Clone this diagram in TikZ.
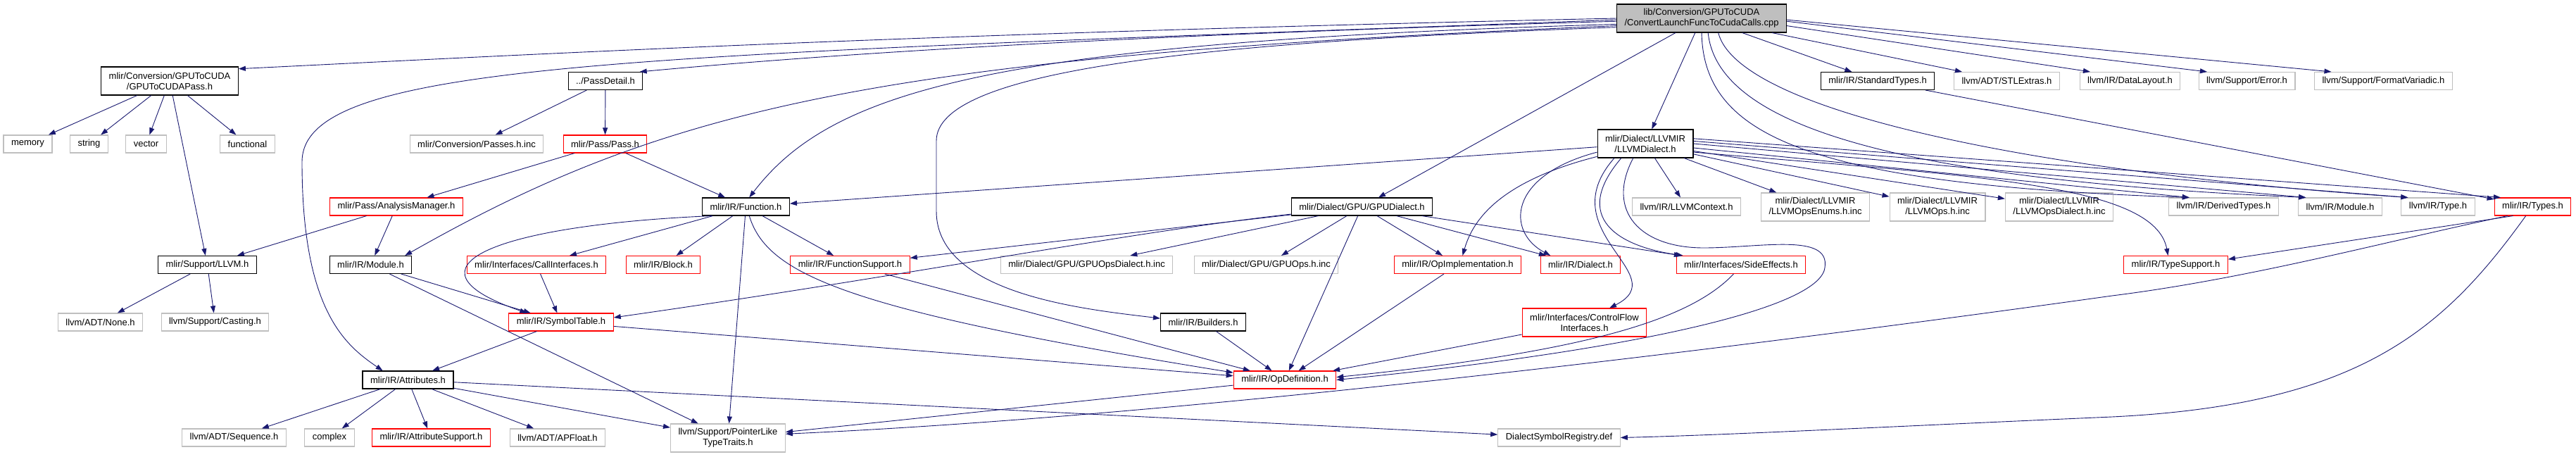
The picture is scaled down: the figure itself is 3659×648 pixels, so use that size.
\documentclass[tikz,border=0pt]{standalone}
\usepackage{fontspec}
\setmainfont{Liberation Sans}
\usetikzlibrary{arrows.meta}
\definecolor{edgeblue}{RGB}{25,25,112}
\definecolor{truncred}{RGB}{255,0,0}
\definecolor{extgray}{RGB}{191,191,191}

\begin{document}
\begin{tikzpicture}[x=1pt,y=1pt,every node/.style={font=\fontsize{13}{15}\selectfont},
  incbox/.style={rectangle,draw,line width=1.1pt,inner xsep=11pt,inner ysep=2pt,minimum height=25pt,align=center},
  doc/.style={incbox,draw=black},
  trunc/.style={incbox,draw=truncred},
  ext/.style={incbox,draw=extgray},
  root/.style={incbox,draw=black,fill=extgray},
  tall/.style={minimum height=40pt},
  dep/.style={draw=edgeblue,line width=0.9pt,-{Triangle[length=10pt,width=7pt]}}]
  \useasboundingbox (0,0) rectangle (3659,-648);
  % Source file
  \node[root,tall] (cpp) at (2417,-26) {lib/Conversion/GPUToCUDA\\/ConvertLaunchFuncToCudaCalls.cpp};
  % Direct includes
  \node[doc,tall] (gputocuda) at (241,-115) {mlir/Conversion/GPUToCUDA\\/GPUToCUDAPass.h};
  \node[doc] (passdetail) at (860,-115) {../PassDetail.h};
  \node[doc] (stdtypes) at (2667,-115) {mlir/IR/StandardTypes.h};
  \node[ext] (stlextras) at (2850.5,-115) {llvm/ADT/STLExtras.h};
  \node[ext] (datalayout) at (3025.5,-115) {llvm/IR/DataLayout.h};
  \node[ext] (error) at (3191.5,-115) {llvm/Support/Error.h};
  \node[ext] (formatvar) at (3385.5,-115) {llvm/Support/FormatVariadic.h};
  % Second row
  \foreach \n/\x in {memory/39.5,string/126.5,vector/207.5,functional/351.5}
    \node[ext] (\n) at (\x,-204.5) {\n};
  \node[ext] (passesinc) at (677,-204.5) {mlir/Conversion/Passes.h.inc};
  \node[trunc] (pass) at (859.5,-204.5) {mlir/Pass/Pass.h};
  \node[doc,tall] (llvmdialect) at (2337,-204) {mlir/Dialect/LLVMIR\\/LLVMDialect.h};
  % Third row
  \node[trunc] (analysis) at (563,-293.5) {mlir/Pass/AnalysisManager.h};
  \node[doc] (function) at (1059.5,-293.5) {mlir/IR/Function.h};
  \node[doc] (gpudialect) at (1934.5,-293.5) {mlir/Dialect/GPU/GPUDialect.h};
  \node[ext] (llvmcontext) at (2395.5,-293.5) {llvm/IR/LLVMContext.h};
  \node[ext,tall] (opsenums) at (2578.5,-294) {mlir/Dialect/LLVMIR\\/LLVMOpsEnums.h.inc};
  \node[ext,tall] (opsinc) at (2752,-294) {mlir/Dialect/LLVMIR\\/LLVMOps.h.inc};
  \node[ext,tall] (opsdialectinc) at (2925,-294) {mlir/Dialect/LLVMIR\\/LLVMOpsDialect.h.inc};
  \node[ext] (derivedtypes) at (3158.5,-293.5) {llvm/IR/DerivedTypes.h};
  \node[ext] (llvmmodule) at (3324,-293.5) {llvm/IR/Module.h};
  \node[ext] (type) at (3463,-293.5) {llvm/IR/Type.h};
  \node[trunc] (types) at (3597.5,-293.5) {mlir/IR/Types.h};
  % Fourth row
  \node[doc] (supportllvm) at (294.5,-376) {mlir/Support/LLVM.h};
  \node[doc] (mlirmodule) at (526.5,-376) {mlir/IR/Module.h};
  \node[trunc] (callif) at (762,-376) {mlir/Interfaces/CallInterfaces.h};
  \node[trunc] (block) at (942,-376) {mlir/IR/Block.h};
  \node[trunc] (funcsupport) at (1207.5,-376) {mlir/IR/FunctionSupport.h};
  \node[ext] (gpuopsdialect) at (1543.5,-376) {mlir/Dialect/GPU/GPUOpsDialect.h.inc};
  \node[ext] (gpuops) at (1798.5,-376) {mlir/Dialect/GPU/GPUOps.h.inc};
  \node[trunc] (opimpl) at (2070.5,-376) {mlir/IR/OpImplementation.h};
  \node[trunc] (dialect) at (2245,-376) {mlir/IR/Dialect.h};
  \node[trunc] (sideeffects) at (2473,-376) {mlir/Interfaces/SideEffects.h};
  \node[trunc] (typesupport) at (3090.5,-376) {mlir/IR/TypeSupport.h};
  % Fifth row
  \node[ext] (none) at (142.5,-457.5) {llvm/ADT/None.h};
  \node[ext] (casting) at (305.5,-457.5) {llvm/Support/Casting.h};
  \node[trunc] (symtable) at (797,-457.5) {mlir/IR/SymbolTable.h};
  \node[doc] (builders) at (1709,-457.5) {mlir/IR/Builders.h};
  \node[trunc,tall] (cfi) at (2250.5,-458) {mlir/Interfaces/ControlFlow\\Interfaces.h};
  % Sixth row
  \node[doc] (attributes) at (579.5,-539.5) {mlir/IR/Attributes.h};
  \node[trunc] (opdef) at (1825,-539.5) {mlir/IR/OpDefinition.h};
  % Bottom row
  \node[ext] (sequence) at (332.5,-621.5) {llvm/ADT/Sequence.h};
  \node[ext] (complex) at (468,-621.5) {complex};
  \node[trunc] (attrsupport) at (612.5,-621.5) {mlir/IR/AttributeSupport.h};
  \node[ext] (apfloat) at (792,-621.5) {llvm/ADT/APFloat.h};
  \node[ext,tall] (pointerlike) at (1034,-622) {llvm/Support/PointerLike\\TypeTraits.h};
  \node[ext] (registry) at (2214.5,-621.5) {DialectSymbolRegistry.def};

  % Straight includes
  \foreach \a/\b in {gputocuda/memory,gputocuda/string,gputocuda/vector,gputocuda/functional,gputocuda/supportllvm,
    passdetail/passesinc,passdetail/pass,pass/analysis,pass/function,
    analysis/supportllvm,analysis/mlirmodule,supportllvm/none,supportllvm/casting,
    mlirmodule/symtable,mlirmodule/pointerlike,
    function/callif,function/block,function/funcsupport,function/pointerlike,
    callif/symtable,symtable/attributes,symtable/opdef,
    attributes/sequence,attributes/complex,attributes/attrsupport,attributes/apfloat,attributes/pointerlike,attributes/registry,
    funcsupport/opdef,builders/opdef,opimpl/opdef,cfi/opdef,opdef/pointerlike,
    gpudialect/funcsupport,gpudialect/gpuopsdialect,gpudialect/gpuops,gpudialect/opdef,
    gpudialect/opimpl,gpudialect/dialect,gpudialect/sideeffects,
    llvmdialect/function,llvmdialect/llvmcontext,llvmdialect/opsenums,llvmdialect/opsinc,llvmdialect/opsdialectinc,
    stdtypes/types,cpp/gpudialect,cpp/llvmdialect,cpp/stdtypes,cpp/stlextras}
    \draw[dep] (\a) -- (\b);

  % Long includes of the source file
  \draw[dep] (cpp.west) .. controls (1300,-48) and (800,-75) .. (gputocuda.10);
  \draw[dep] (cpp.182) .. controls (1600,-50) and (1200,-75) .. (passdetail.15);
  \draw[dep] (cpp.184) .. controls (1400,-60) and (1180,-130) .. (function.70);
  \draw[dep] (cpp.185) .. controls (1250,-80) and (950,-150) .. (mlirmodule.15);
  \draw[dep] (cpp.181) .. controls (900,-80) and (429,-85) .. (429,-230)
    .. controls (429,-440) and (490,-490) .. (attributes.160);
  \draw[dep] (cpp.186) .. controls (1700,-60) and (1330,-100) .. (1330,-200) -- (1330,-300)
    .. controls (1330,-420) and (1550,-440) .. (builders.175);
  \draw[dep] (cpp.355) -- (datalayout.167);
  \draw[dep] (cpp.358) -- (error.167);
  \draw[dep] (cpp.359) -- (formatvar.170);
  \draw[dep] (cpp.270) .. controls (2420,-190) and (2560,-262) .. (derivedtypes.165);
  \draw[dep] (cpp.294) .. controls (2440,-180) and (2700,-255) .. (llvmmodule.165);
  \draw[dep] (cpp.319) .. controls (2470,-160) and (2900,-245) .. (type.163);

  % Curved includes
  \draw[dep] (function.195) .. controls (700,-320) and (560,-380) .. (symtable.165);
  \draw[dep] (function.290) .. controls (1090,-390) and (1200,-440) .. (opdef.172);
  \draw[dep] (gpudialect.186) .. controls (1600,-330) and (1300,-390) .. (symtable.5);
  \draw[dep] (llvmdialect.190) .. controls (2140,-250) and (2140,-330) .. (dialect.163);
  \draw[dep] (llvmdialect.195) .. controls (2120,-260) and (2090,-320) .. (opimpl.62);
  \draw[dep] (llvmdialect.205) .. controls (2200,-330) and (2380,-390) .. (cfi.30);
  \draw[dep] (llvmdialect.211) .. controls (2230,-310) and (2300,-350) .. (sideeffects.171);
  \draw[dep] (llvmdialect.230) .. controls (2280,-300) and (2330,-352) .. (2420,-352)
    .. controls (2500,-352) and (2600,-330) .. (2592,-380)
    .. controls (2585,-440) and (2300,-500) .. (opdef.east);
  \draw[dep] (sideeffects.231) .. controls (2400,-455) and (2250,-500) .. (opdef.3);
  \draw[dep] (llvmdialect.350) .. controls (2800,-250) and (3060,-260) .. (typesupport.130);
  \draw[dep] (llvmdialect.355) -- (derivedtypes.165);
  \draw[dep] (llvmdialect.0) -- (llvmmodule.165);
  \draw[dep] (llvmdialect.3) -- (type.163);
  \draw[dep] (llvmdialect.6) -- (types.164);
  \draw[dep] (types.200) .. controls (3400,-340) and (3200,-395) .. (3000,-420)
    .. controls (2500,-490) and (1700,-590) .. (pointerlike.4);
  \draw[dep] (types.205) -- (typesupport.6);
  \draw[dep] (types.233) .. controls (3470,-470) and (3350,-575) .. (3000,-592)
    .. controls (2700,-605) and (2450,-618) .. (registry.east);
\end{tikzpicture}
\end{document}
